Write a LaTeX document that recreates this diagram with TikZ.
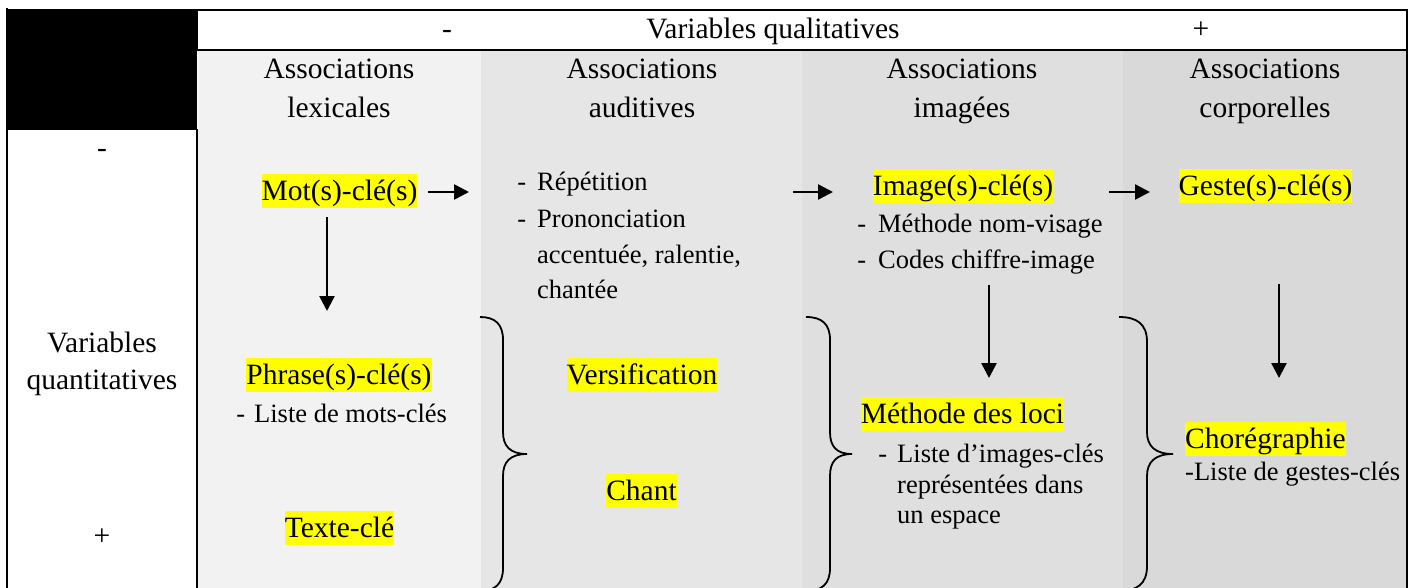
\documentclass[tikz,border=0pt]{standalone}
\usepackage{fontspec}
\setmainfont{Liberation Serif}
\usetikzlibrary{arrows.meta}
\definecolor{colA}{RGB}{242,242,242}
\definecolor{colB}{RGB}{230,230,230}
\definecolor{colC}{RGB}{223,223,223}
\definecolor{colD}{RGB}{217,217,217}
\definecolor{hlyellow}{RGB}{255,255,0}
\newcommand\mainsz{\fontsize{29.5}{38}\selectfont}
\newcommand\listsz{\fontsize{26.5}{36}\selectfont}
\begin{document}
\begin{tikzpicture}[x=1pt,y=-1pt,
  frame/.style={line width=2pt, line cap=rect},
  mainT/.style={font=\mainsz, inner sep=0pt, text=black},
  listT/.style={font=\listsz, inner sep=0pt, text=black, anchor=base west},
  hl/.style={font=\mainsz, fill=hlyellow, inner xsep=0pt, inner ysep=0pt, text height=26pt, text depth=8pt},
  arr/.style={line width=2.5pt, -{Triangle[length=15pt 0, width=15pt 0]}},
  brc/.style={line width=1.8pt}]
\useasboundingbox (0,0) rectangle (1416,587);
% column backgrounds
\fill[colA] (198,50) rectangle (481,600);
\fill[colB] (481,50) rectangle (802,600);
\fill[colC] (802,50) rectangle (1123,600);
\fill[colD] (1123,50) rectangle (1407,600);
% frame
\fill[black] (7,9) rectangle (197,130);
\draw[frame] (197,10) rectangle (1407,50);
\draw[frame] (7,9) -- (7,600);
\draw[frame] (197,130) -- (197,600);
\draw[frame] (1407,50) -- (1407,600);
% header row
\node[mainT, anchor=base] (hminus) at (447,38) {-};
\node[mainT, anchor=base] (vqual) at (773,38) {Variables qualitatives};
\node[mainT, anchor=base] (hplus) at (1201,38) {+};
% column headers
\node[mainT, anchor=base] (lexA) at (339,78) {Associations};
\node[mainT, anchor=base] (lexB) at (339,117) {lexicales};
\node[mainT, anchor=base] (audA) at (642,78) {Associations};
\node[mainT, anchor=base] (audB) at (642,117) {auditives};
\node[mainT, anchor=base] (imgA) at (962,78) {Associations};
\node[mainT, anchor=base] (imgB) at (962,117) {imagées};
\node[mainT, anchor=base] (corA) at (1265,78) {Associations};
\node[mainT, anchor=base] (corB) at (1265,117) {corporelles};
% left column
\node[mainT, anchor=base] (vminus) at (102,157) {-};
\node[mainT, anchor=base] (vquanA) at (102,352) {Variables};
\node[mainT, anchor=base] (vquanB) at (102,389) {quantitatives};
\node[mainT, anchor=base] (vplus) at (102,545) {+};
% lexical column
\node[hl] (mot) at (339.5,191) {Mot(s)-clé(s)};
\node[hl] (phrase) at (339,375) {Phrase(s)-clé(s)};
\node[listT] (lmots) at (254,422) {\llap{-\hspace{9pt}}Liste de mots-clés};
\node[hl] (texte) at (339.5,528) {Texte-clé};
% auditive column
\node[listT] (rep) at (537,190) {\llap{-\hspace{11pt}}Répétition};
\node[listT] (pron) at (537,227) {\llap{-\hspace{11pt}}Prononciation};
\node[listT] (pronB) at (537,263) {accentuée, ralentie,};
\node[listT] (pronC) at (537,298) {chantée};
\node[hl] (vers) at (642,375) {Versification};
\node[hl] (chant) at (641.5,491) {Chant};
% image column
\node[hl] (image) at (963,186) {Image(s)-clé(s)};
\node[listT] (nomv) at (878,232) {\llap{-\hspace{12pt}}Méthode nom-visage};
\node[listT] (codes) at (878,268) {\llap{-\hspace{12pt}}Codes chiffre-image};
\node[hl] (loci) at (962.5,414) {Méthode des loci};
\node[listT] (limg) at (897,462) {\llap{-\hspace{10pt}}Liste d’images-clés};
\node[listT] (limgB) at (897,493) {représentées dans};
\node[listT] (limgC) at (897,523) {un espace};
% body column
\node[hl] (geste) at (1265.5,186) {Geste(s)-clé(s)};
\node[hl, anchor=west] (choreo) at (1185,439) {Chorégraphie};
\node[listT] (lgest) at (1185,480) {-Liste de gestes-clés};
% arrow end points
\coordinate (a1s) at (428,192);
\coordinate (a1e) at (469,192);
\coordinate (a2s) at (793,192);
\coordinate (a2e) at (833,192);
\coordinate (a3s) at (1109,192);
\coordinate (a3e) at (1150,192);
\coordinate (d1s) at (327,217);
\coordinate (d1e) at (327,311);
\coordinate (d2s) at (989,285);
\coordinate (d2e) at (989,378);
\coordinate (d3s) at (1279,284);
\coordinate (d3e) at (1279,378);
\draw[arr] (a1s) -- (a1e);
\draw[arr] (a2s) -- (a2e);
\draw[arr] (a3s) -- (a3e);
\draw[arr] (d1s) -- (d1e);
\draw[arr] (d2s) -- (d2e);
\draw[arr] (d3s) -- (d3e);
% braces
\draw[brc] (480,317) .. controls (495,317) and (503,324) .. (503,340) -- (503,432)
  .. controls (503,446) and (510,454) .. (527,454)
  .. controls (510,454) and (503,462) .. (503,476) -- (503,568)
  .. controls (503,584) and (495,591) .. (480,591);
\draw[brc] (806,317) .. controls (822,317) and (830,324) .. (830,340) -- (830,432)
  .. controls (830,446) and (836,454) .. (852,454)
  .. controls (836,454) and (830,462) .. (830,476) -- (830,568)
  .. controls (830,584) and (822,591) .. (806,591);
\draw[brc] (1119,317) .. controls (1137,317) and (1147,324) .. (1147,342) -- (1147,432)
  .. controls (1147,446) and (1155,454) .. (1173,454)
  .. controls (1155,454) and (1147,462) .. (1147,476) -- (1147,566)
  .. controls (1147,584) and (1137,591) .. (1119,591);
\end{tikzpicture}
\end{document}
